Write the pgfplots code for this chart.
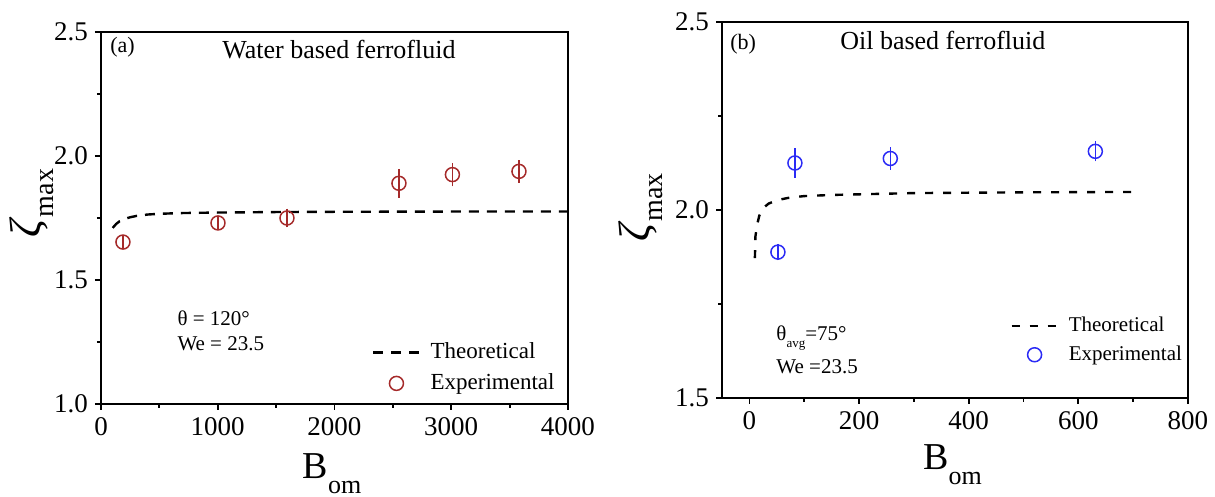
\documentclass[border=0pt]{standalone}
\usepackage{fontspec}
\setmainfont{Liberation Serif}
\usepackage{pgfplots}
\pgfplotsset{compat=1.18}
\definecolor{expred}{HTML}{A52A2A}
\definecolor{expblue}{HTML}{2B2BF5}
\newcommand{\fs}[1]{\fontsize{#1}{#1}\selectfont}

\pgfplotsset{
  panel/.style={
    scale only axis, clip=false,
    axis line style={line width=1pt},
    tick align=outside, tick pos=left,
    major tick length=3pt, minor tick length=2pt,
    every tick/.style={line width=0.9pt, black},
    tick label style={font=\fs{13.5}},
    /pgf/number format/assume math mode=true,
    xticklabel style={/pgf/number format/set thousands separator={}},
    yticklabel style={/pgf/number format/.cd, fixed, fixed zerofill, precision=1},
    legend cell align=left,
    xlabel style={anchor=base, inner sep=0pt},
    ylabel style={anchor=center, inner sep=0pt},
  },
  theo/.style={black, line width=1.2pt, no marks,
    legend image code/.code={\draw[##1] (0pt,0pt) -- (23pt,0pt);}},
  expt/.style={only marks, mark=o, mark size=3.5pt, line width=0.75pt,
    error bars/y dir=both, error bars/y explicit,
    error bars/error bar style={line width=0.75pt},
    error bars/error mark options={mark size=2.2pt, line width=0.75pt},
    legend image code/.code={\path[draw=none] (0pt,0pt) -- (23pt,0pt);
      \path[##1, draw=none] plot coordinates {(11.5pt,0pt)};}},
}

\begin{document}
\begin{tikzpicture}
% (a) water based
\begin{axis}[panel, at={(50.5pt,46.5pt)}, anchor=south west,
  width=233.5pt, height=186pt,
  xmin=0, xmax=4000, ymin=1.0, ymax=2.5,
  xtick={0,1000,2000,3000,4000}, ytick={1.0,1.5,2.0,2.5},
  minor x tick num=1, minor y tick num=1,
  xlabel={\fs{19}B\raisebox{-7.5pt}{\fs{13}om}},
  xlabel style={at={(axis description cs:0.495,-0.199)}},
  ylabel={\fs{22}\textit{ζ}\raisebox{-0.3em}{\fs{14}max}},
  ylabel style={at={(axis description cs:-0.148,0.54)}},
  legend style={at={(axis description cs:0.58,0.097)}, anchor=west,
    draw=none, fill=none, font=\fs{11.5}, inner sep=0pt,
    row sep=2pt, column sep=3pt}]
\addplot[theo, dash pattern=on 5pt off 4pt] coordinates {
  (100,1.710) (130,1.726) (160,1.737) (200,1.746) (250,1.753) (300,1.758)
  (400,1.764) (500,1.767) (700,1.770) (1000,1.772) (1500,1.774)
  (2000,1.775) (3000,1.776) (4000,1.776)};
\addlegendentry{Theoretical}
\addplot[expt, color=expred] coordinates {
  (188,1.653) +- (0,0.012)
  (1002,1.730) +- (0,0.012)
  (1593,1.750) +- (0,0.020)
  (2552,1.890) +- (0,0.040)
  (3010,1.925) +- (0,0.030)
  (3580,1.938) +- (0,0.028)};
\addlegendentry{Experimental}
\node[anchor=base west, inner sep=0pt, font=\fs{11}] at (axis description cs:0.019,0.946) {(a)};
\node[anchor=base west, inner sep=0pt, font=\fs{13}] at (axis description cs:0.259,0.930) {Water based ferrofluid};
\node[anchor=base west, inner sep=0pt, font=\fs{10.5}] at (axis description cs:0.163,0.212) {θ = 120°};
\node[anchor=base west, inner sep=0pt, font=\fs{10.5}] at (axis description cs:0.163,0.145) {We = 23.5};
\end{axis}

% (b) oil based
\begin{axis}[panel, at={(361pt,49.5pt)}, anchor=south west,
  width=233pt, height=188pt,
  xmin=-50, xmax=800, ymin=1.5, ymax=2.5,
  xtick={0,200,400,600,800}, ytick={1.5,2.0,2.5},
  minor x tick num=1, minor y tick num=1,
  xlabel={\fs{19}B\raisebox{-7.5pt}{\fs{13}om}},
  xlabel style={at={(axis description cs:0.495,-0.19)}},
  ylabel={\fs{22}\textit{ζ}\raisebox{-0.3em}{\fs{14}max}},
  ylabel style={at={(axis description cs:-0.174,0.507)}},
  legend style={at={(axis description cs:0.618,0.153)}, anchor=west,
    draw=none, fill=none, font=\fs{10.5}, inner sep=0pt,
    row sep=1.5pt, column sep=3pt}]
\addplot[theo, dash pattern=on 4pt off 5pt] coordinates {
  (10,1.872) (11,1.930) (14,1.960) (18,1.985) (25,2.005) (35,2.017)
  (50,2.026) (70,2.032) (100,2.037) (150,2.040) (300,2.045)
  (500,2.047) (700,2.048)};
\addlegendentry{Theoretical}
\addplot[expt, color=expblue] coordinates {
  (52,1.888) +- (0,0.010)
  (83,2.125) +- (0,0.028)
  (257,2.137) +- (0,0.018)
  (631,2.156) +- (0,0.015)};
\addlegendentry{Experimental}
\node[anchor=base west, inner sep=0pt, font=\fs{11}] at (axis description cs:0.017,0.926) {(b)};
\node[anchor=base west, inner sep=0pt, font=\fs{13}] at (axis description cs:0.253,0.926) {Oil based ferrofluid};
\node[anchor=base west, inner sep=0pt, font=\fs{10.5}] at (axis description cs:0.116,0.154) {θ\raisebox{-0.35em}{\fs{6.5}avg}=75°};
\node[anchor=base west, inner sep=0pt, font=\fs{10.5}] at (axis description cs:0.116,0.064) {We =23.5};
\end{axis}
\pgfresetboundingbox
\useasboundingbox (0pt,0pt) rectangle (607.5pt,248.5pt);
\end{tikzpicture}
\end{document}
